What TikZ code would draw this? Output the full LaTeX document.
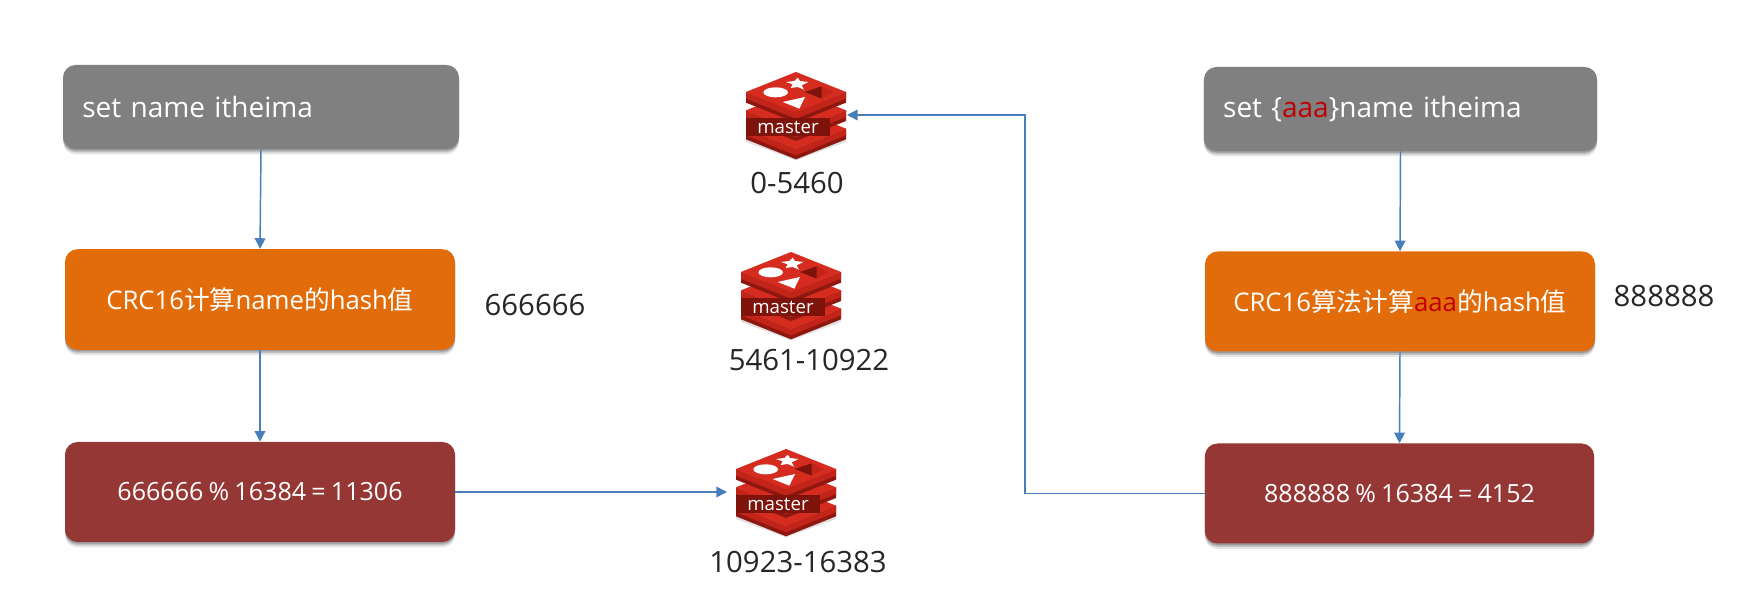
\documentclass[tikz,border=0pt]{standalone}
\usepackage{fontspec}
\setmainfont[WordSpace=0.8]{Open Sans}
\newfontfamily\cjk{Noto Sans CJK SC}
\usetikzlibrary{arrows.meta,shadows}
\definecolor{boxgray}{HTML}{808080}
\definecolor{boxorange}{HTML}{E36C0A}
\definecolor{boxred}{HTML}{953735}
\definecolor{linkblue}{HTML}{4A7EBB}
\definecolor{txtred}{HTML}{C00000}
\definecolor{logoface}{HTML}{D62C20}
\definecolor{logoside}{HTML}{C2241A}
\definecolor{logogap}{HTML}{8E1810}
\definecolor{logodark}{HTML}{7E130C}
\definecolor{ink}{HTML}{262626}
\tikzset{
  softshadow/.style={
    drop shadow={shadow xshift=0pt,shadow yshift=-1.2pt,opacity=.2,fill=black},
    drop shadow={shadow xshift=0pt,shadow yshift=-2.5pt,opacity=.16,fill=black},
    drop shadow={shadow xshift=0pt,shadow yshift=-4pt,opacity=.1,fill=black}},
  flowbox/.style={rectangle,rounded corners=9.5pt,softshadow,text=white,inner sep=0pt,anchor=center},
  graybox/.style={flowbox,fill=boxgray,font=\fontsize{21}{25}\selectfont,align=left},
  orangebox/.style={flowbox,fill=boxorange,font=\fontsize{19.3}{23}\selectfont,align=center},
  redbox/.style={flowbox,fill=boxred,font=\fontsize{18.8}{22}\selectfont,align=center},
  numlabel/.style={text=ink,font=\fontsize{22}{26}\selectfont,inner sep=0pt},
  link/.style={draw=linkblue,line width=1.1pt,-{Triangle[length=8pt,width=8pt]}},
  redislogo/.pic={
    \begin{scope}[x=0.25pt,y=-0.25pt]
      \fill[black,opacity=.12] (-150,122) -- (0,190) -- (150,122) -- (150,150) -- (0,205) -- (-150,150) -- cycle;
      \foreach \c in {110,55,0}{
        \fill[logogap] (-150,\c) -- (0,{\c+60}) -- (150,\c) -- (150,{\c+32}) -- (0,{\c+92}) -- (-150,{\c+32}) -- cycle;
        \fill[logoside] (-150,\c) -- (0,{\c+60}) -- (150,\c) -- (150,{\c+20}) -- (0,{\c+80}) -- (-150,{\c+20}) -- cycle;
        \fill[logoface] (-150,\c) -- (0,{\c-60}) -- (150,\c) -- (0,{\c+60}) -- cycle;
      }
      \fill[white] (5,-43) -- (12,-33) -- (37,-30) -- (17,-20) -- (24,-7) -- (5,-15) -- (-16,-12) -- (-10,-23) -- (-30,-30) -- (-5,-33) -- cycle;
      \fill[white] (-61,1) ellipse [x radius=37,y radius=15];
      \fill[white] (-40,30) -- (27,15) -- (10,50) -- cycle;
      \fill[logoside] (27,0) -- (77,-17) -- (112,0) -- (77,20) -- cycle;
      \fill[logodark] (27,0) -- (77,-17) -- (77,20) -- cycle;
      \node[fill=logodark,text=white,minimum width=63pt,minimum height=14.2pt,inner sep=0pt,
            font=\fontsize{14}{15}\selectfont] (-bar) at (-24,105) {master};
    \end{scope}
  }
}
\begin{document}
\begin{tikzpicture}[x=0.75pt,y=-0.75pt]
\useasboundingbox[fill=white] (0,0) rectangle (1754,598);

% left column
\node[graybox,minimum width=297pt,minimum height=63pt,text width=268pt] (g1) at (261,107) {set name itheima};
\node[orangebox,minimum width=292.5pt,minimum height=75.5pt] (o1) at (260,299.5) {CRC16{\cjk 计算}name{\cjk 的}hash{\cjk 值}};
\node[redbox,minimum width=292.5pt,minimum height=75pt] (r1) at (260,492) {666666 \% 16384 = 11306};

% right column
\node[graybox,minimum width=295pt,minimum height=63pt,text width=266pt] (g2) at (1400.5,109) {set \{\textcolor{txtred}{aaa}\}name itheima};
\node[orangebox,minimum width=292.5pt,minimum height=75pt] (o2) at (1400,301.5) {CRC16{\cjk 算法计算}\textcolor{txtred}{aaa}{\cjk 的}hash{\cjk 值}};
\node[redbox,minimum width=292pt,minimum height=75pt] (r2) at (1399.5,493.5) {888888 \% 16384 = 4152};

% side values
\node[numlabel] (v1) at (535,305) {666666};
\node[numlabel] (v2) at (1664,296) {888888};

% masters
\pic (m1) at (796,92) {redislogo};
\pic (m2) at (791,272) {redislogo};
\pic (m3) at (786,469) {redislogo};
\node[numlabel] (l1) at (797,183) {0-5460};
\node[numlabel] (l2) at (809,360) {5461-10922};
\node[numlabel] (l3) at (798,562) {10923-16383};

% connector ends
\coordinate (m1in) at (847,115);
\coordinate (m3in) at (727,492);
\coordinate (turn) at (1025,300);

% connectors
\draw[link] (g1.south) -- (o1.north);
\draw[link] (o1.south) -- (r1.north);
\draw[link] (r1.east) -- (m3in);
\draw[link] (g2.south) -- (o2.north);
\draw[link] (o2.south) -- (r2.north);
\draw[link] (r2.west) -- (turn |- r2.west) -- (turn |- m1in) -- (m1in);
\end{tikzpicture}
\end{document}
